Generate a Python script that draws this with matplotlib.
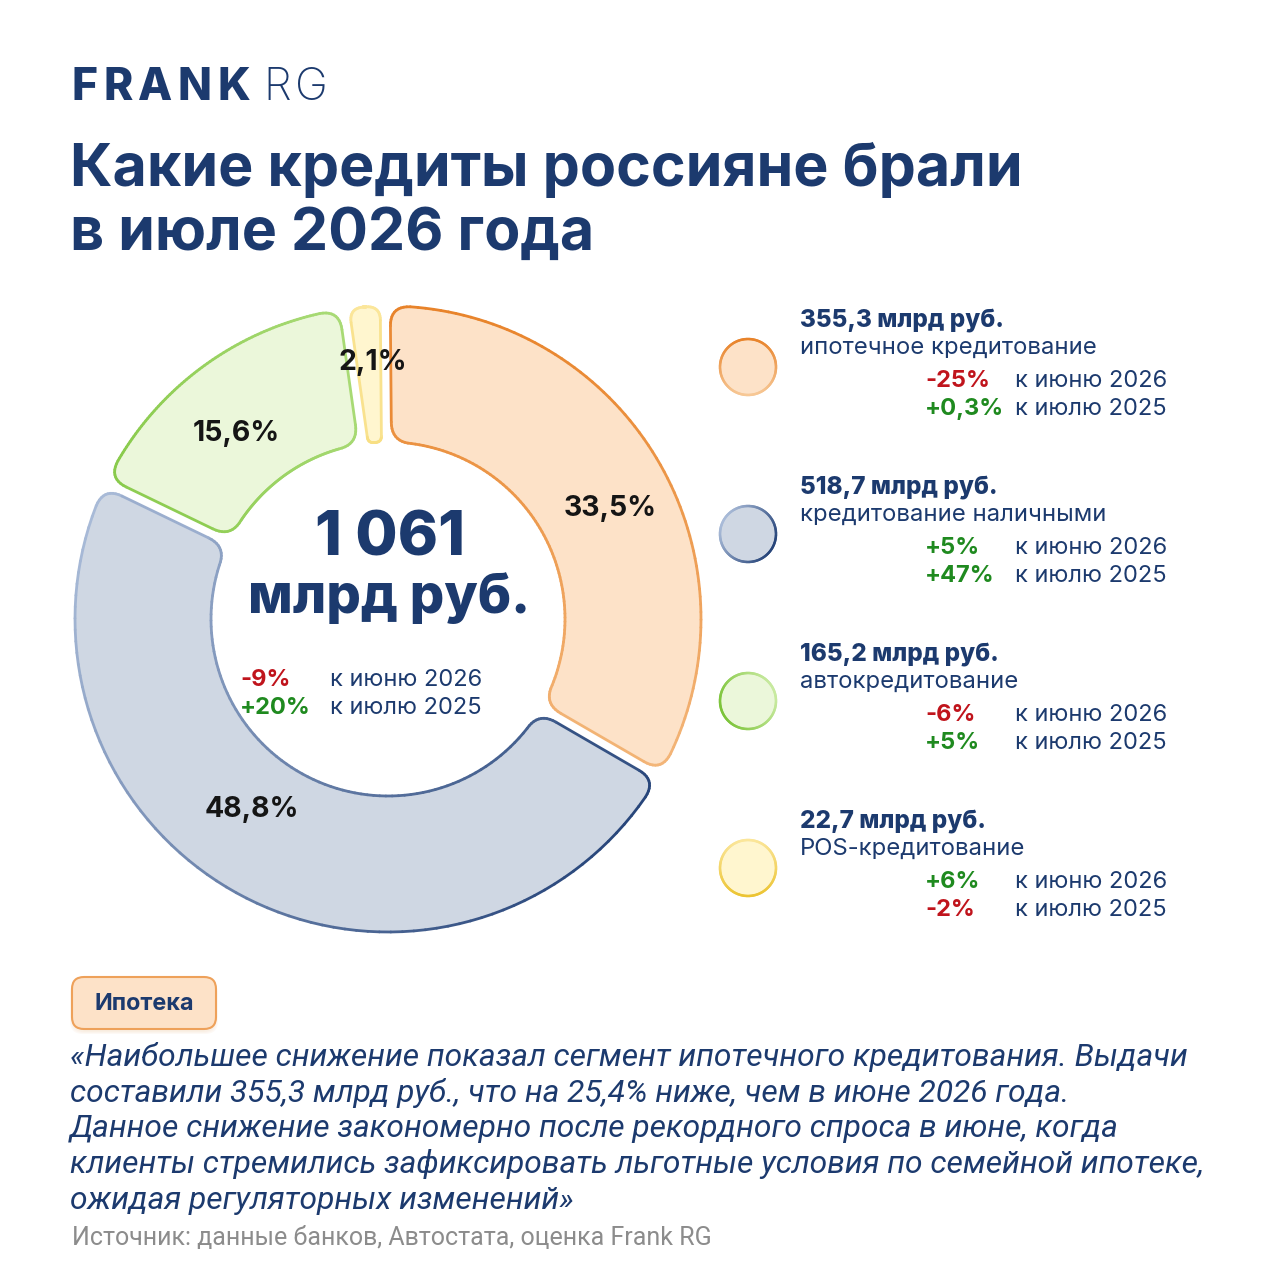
import numpy as np
import matplotlib
matplotlib.use("Agg")
import matplotlib.pyplot as plt
from matplotlib.patches import Polygon, FancyBboxPatch
from matplotlib.collections import LineCollection

plt.rcParams['font.family'] = ['Inter', 'DejaVu Sans']

# --- data ---
shares = [33.5, 48.8, 15.6, 2.1]
share_labels = ["33,5%", "48,8%", "15,6%", "2,1%"]
amounts = ["355,3 млрд руб.", "518,7 млрд руб.", "165,2 млрд руб.", "22,7 млрд руб."]
segments = ["ипотечное кредитование", "кредитование наличными",
            "автокредитование", "POS-кредитование"]
to_june = ["-25%", "+5%", "-6%", "+6%"]
to_july = ["+0,3%", "+47%", "+5%", "-2%"]
total_value = "1 061"
total_unit = "млрд руб."
total_to_june = "-9%"
total_to_july = "+20%"
june_label = "к июню 2026"
july_label = "к июлю 2025"

title_lines = ["Какие кредиты россияне брали", "в июле 2026 года"]
badge = "Ипотека"
quote = ["«Наибольшее снижение показал сегмент ипотечного кредитования. Выдачи",
         "составили 355,3 млрд руб., что на 25,4% ниже, чем в июне 2026 года.",
         "Данное снижение закономерно после рекордного спроса в июне, когда",
         "клиенты стремились зафиксировать льготные условия по семейной ипотеке,",
         "ожидая регуляторных изменений»"]
source = "Источник: данные банков, Автостата, оценка Frank RG"

# --- styles ---
NAVY = "#1c3a6e"
RED = "#c0141c"
GREEN = "#1f8a1f"
fills = ["#fde2c8", "#cfd7e3", "#ebf7da", "#fff6cf"]
edge_dark = ["#e8832a", "#27457a", "#7cc43a", "#ecc432"]
edge_light = ["#f7c896", "#a9bbd8", "#c8eaa0", "#fbe69a"]
grad_dir = [90, -30, 200, -90]  # direction (deg) pointing to the dark side
label_r = [248, 234, 240, 257]
label_shift = [-3.7, -7.7, 3.1, -0.9]

CX, CY = 388, 619
R_OUT, R_IN = 313, 177
GAP = 10
CORNER = 20
START = 90.5


def sign_color(s):
    return RED if s.startswith("-") else GREEN


def to_px(pts):
    pts = np.asarray(pts)
    return np.column_stack([CX + pts[:, 0], CY - pts[:, 1]])


def u(a):
    a = np.radians(a)
    return np.array([np.cos(a), np.sin(a)])


def bez(p0, c, p2, n=12):
    t = np.linspace(0, 1, n)[:, None]
    return (1 - t) ** 2 * p0 + 2 * (1 - t) * t * c + t ** 2 * p2


def arc(r, a_from, a_to, n=80):
    a = np.linspace(a_from, a_to, n)
    return np.column_stack([r * np.cos(np.radians(a)), r * np.sin(np.radians(a))])


def sector(a1, a2, ri, ro, gap, c):
    h = gap / 2
    n1 = u(a1 + 90)
    n2 = u(a2 + 90)
    A = np.sqrt(ro ** 2 - h ** 2) * u(a1) + h * n1
    B = np.sqrt(ri ** 2 - h ** 2) * u(a1) + h * n1
    D = np.sqrt(ro ** 2 - h ** 2) * u(a2) - h * n2
    E = np.sqrt(ri ** 2 - h ** 2) * u(a2) - h * n2
    aA = a1 + np.degrees(np.arcsin(h / ro))
    aB = a1 + np.degrees(np.arcsin(h / ri))
    aD = a2 - np.degrees(np.arcsin(h / ro))
    aE = a2 - np.degrees(np.arcsin(h / ri))
    co = min(c, np.radians(aD - aA) * ro / 2.2)
    ci = min(c, np.radians(aE - aB) * ri / 2.2)
    parts = [
        bez(A - co * u(a1), A, ro * u(aA + np.degrees(co / ro))),
        arc(ro, aA + np.degrees(co / ro), aD - np.degrees(co / ro)),
        bez(ro * u(aD - np.degrees(co / ro)), D, D - co * u(a2)),
        bez(E + ci * u(a2), E, ri * u(aE - np.degrees(ci / ri))),
        arc(ri, aE - np.degrees(ci / ri), aB + np.degrees(ci / ri)),
        bez(ri * u(aB + np.degrees(ci / ri)), B, B + ci * u(a1)),
    ]
    return np.vstack(parts)


def gradient_edge(ax, pts, center, rad, dark, light, ang, lw):
    pts = np.vstack([pts, pts[:1]])
    mids = (pts[:-1] + pts[1:]) / 2
    d = np.array([np.cos(np.radians(ang)), -np.sin(np.radians(ang))])
    t = np.clip(((mids - center) @ d / rad + 1) / 2, 0, 1)
    c0 = np.array(matplotlib.colors.to_rgb(light))
    c1 = np.array(matplotlib.colors.to_rgb(dark))
    cols = c0 + (c1 - c0) * t[:, None]
    segs = np.stack([pts[:-1], pts[1:]], axis=1)
    ax.add_collection(LineCollection(segs, colors=cols, linewidths=lw,
                                     capstyle="round", joinstyle="round"))


def tracked(ax, x, y, s, width, **kw):
    # spread letters of s evenly so the word spans `width` pixels
    texts = [ax.text(0, y, ch, va="center", **kw) for ch in s]
    r = fig.canvas.get_renderer()
    ws = [t.get_window_extent(r).width for t in texts]
    extra = (width - sum(ws)) / max(len(s) - 1, 1)
    cur = x
    for t, w in zip(texts, ws):
        t.set_x(cur)
        cur += w + extra


fig = plt.figure(figsize=(12.8, 12.8), dpi=100)
ax = fig.add_axes([0, 0, 1, 1])
ax.set_xlim(0, 1280)
ax.set_ylim(1280, 0)
ax.axis("off")

# logo and title
tracked(ax, 72, 88, "FRANK", 178, fontsize=32, fontweight="heavy", color=NAVY)
tracked(ax, 263, 88, "RG", 65, fontsize=32, fontweight="light", color=NAVY)
for i, line in enumerate(title_lines):
    ax.text(70, 170 + i * 64, line, fontsize=42.5, fontweight="bold", color=NAVY,
            va="center")

# donut
start = START
for i, s in enumerate(shares):
    a2 = start
    a1 = start - s * 3.6
    start = a1
    pts = to_px(sector(a1, a2, R_IN, R_OUT, GAP, CORNER))
    ax.add_patch(Polygon(pts, closed=True, facecolor=fills[i], edgecolor="none"))
    gradient_edge(ax, pts, np.array([CX, CY]), R_OUT, edge_dark[i], edge_light[i],
                  grad_dir[i], 2.0)
    mid = np.radians((a1 + a2) / 2 + label_shift[i])
    lx, ly = CX + label_r[i] * np.cos(mid), CY - label_r[i] * np.sin(mid)
    ax.text(lx, ly, share_labels[i], fontsize=20.5, fontweight="bold", color="#151515",
            ha="center", va="center")

# centre totals
ax.text(CX + 2, 539, total_value, fontsize=44, fontweight="heavy", color=NAVY,
        ha="center", va="center")
ax.text(CX + 1, 598, total_unit, fontsize=39, fontweight="heavy", color=NAVY,
        ha="center", va="center")
ax.text(240, 680, total_to_june, fontsize=17, fontweight="bold",
        color=sign_color(total_to_june), va="center")
ax.text(240, 708, total_to_july, fontsize=17, fontweight="bold",
        color=sign_color(total_to_july), va="center")
ax.text(330, 680, june_label, fontsize=17, color=NAVY, va="center")
ax.text(330, 708, july_label, fontsize=17, color=NAVY, va="center")

# legend
for i in range(len(shares)):
    y0 = 320 + i * 167
    cy = y0 + 47
    th = np.linspace(0, 2 * np.pi, 120, endpoint=False)
    circ = np.column_stack([748 + 28 * np.cos(th), cy + 28 * np.sin(th)])
    ax.add_patch(Polygon(circ, closed=True, facecolor=fills[i], edgecolor="none"))
    gradient_edge(ax, circ, np.array([748, cy]), 28, edge_dark[i], edge_light[i],
                  grad_dir[i], 1.8)
    ax.text(800, y0, amounts[i], fontsize=17.5, fontweight="heavy", color=NAVY,
            va="center")
    ax.text(800, y0 + 28, segments[i], fontsize=17.2, color=NAVY, va="center")
    ax.text(925, y0 + 61, to_june[i], fontsize=17, fontweight="bold",
            color=sign_color(to_june[i]), va="center")
    ax.text(925, y0 + 89, to_july[i], fontsize=17, fontweight="bold",
            color=sign_color(to_july[i]), va="center")
    ax.text(1015, y0 + 61, june_label, fontsize=17, color=NAVY, va="center")
    ax.text(1015, y0 + 89, july_label, fontsize=17, color=NAVY, va="center")

# badge with a soft shadow
for k, a in enumerate([0.05, 0.05, 0.06]):
    ax.add_patch(FancyBboxPatch((72 - k, 979 + k), 144 + 2 * k, 53,
                                boxstyle="round,pad=0,rounding_size=13",
                                facecolor="#e8a060", edgecolor="none", alpha=a))
ax.add_patch(FancyBboxPatch((72, 977), 144, 52,
                            boxstyle="round,pad=0,rounding_size=12",
                            facecolor=fills[0], edgecolor="#eea15a", linewidth=1.5))
ax.text(144, 1004, badge, fontsize=16.8, fontweight="bold", color=NAVY,
        ha="center", va="center")

# quote and source
for i, line in enumerate(quote):
    ax.text(70, 1057 + i * 35.8, line, fontsize=22.9, fontstyle="italic", color=NAVY,
            va="center", family=["Roboto", "DejaVu Sans"])
ax.text(72, 1238, source, fontsize=18, color="#8c8c8c", va="center",
        family=["Roboto", "DejaVu Sans"])

fig.savefig("out.png", dpi=100, facecolor="white")
